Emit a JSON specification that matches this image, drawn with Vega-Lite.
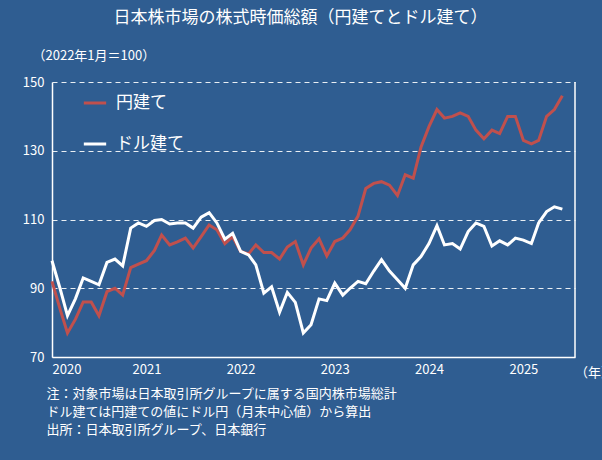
{
  "$schema": "https://vega.github.io/schema/vega-lite/v6.json",
  "autosize": "none",
  "width": 523,
  "height": 275,
  "padding": {"left": 52, "top": 82, "right": 27, "bottom": 103},
  "background": "#2f5d91",
  "config": {
    "font": "Noto Sans CJK JP",
    "view": {"stroke": null},
    "axis": {"labelColor": "white", "titleColor": "white", "labelFontSize": 13, "domainColor": "white", "domainWidth": 1.5, "tickColor": "white"}
  },
  "title": {
    "text": "日本株市場の株式時価総額（円建てとドル建て）",
    "color": "white", "fontSize": 17, "fontWeight": "normal", "anchor": "middle", "frame": "group", "offset": 22, "dx": -13
  },
  "datasets": {
    "index": [
      {"date": "2020-01", "円建て": 92, "ドル建て": 98},
      {"date": "2020-02", "円建て": 84, "ドル建て": 90},
      {"date": "2020-03", "円建て": 77, "ドル建て": 82},
      {"date": "2020-04", "円建て": 81, "ドル建て": 87},
      {"date": "2020-05", "円建て": 86, "ドル建て": 93},
      {"date": "2020-06", "円建て": 86, "ドル建て": 92},
      {"date": "2020-07", "円建て": 82, "ドル建て": 91},
      {"date": "2020-08", "円建て": 89, "ドル建て": 97.5},
      {"date": "2020-09", "円建て": 90, "ドル建て": 98.5},
      {"date": "2020-10", "円建て": 88, "ドル建て": 96.5},
      {"date": "2020-11", "円建て": 96, "ドル建て": 107.5},
      {"date": "2020-12", "円建て": 97, "ドル建て": 109},
      {"date": "2021-01", "円建て": 98, "ドル建て": 108},
      {"date": "2021-02", "円建て": 101, "ドル建て": 109.7},
      {"date": "2021-03", "円建て": 105.5, "ドル建て": 110},
      {"date": "2021-04", "円建て": 102.6, "ドル建て": 108.7},
      {"date": "2021-05", "円建て": 103.5, "ドル建て": 109},
      {"date": "2021-06", "円建て": 104.6, "ドル建て": 109},
      {"date": "2021-07", "円建て": 101.7, "ドル建て": 107.5},
      {"date": "2021-08", "円建て": 105, "ドル建て": 110.7},
      {"date": "2021-09", "円建て": 108.4, "ドル建て": 112},
      {"date": "2021-10", "円建て": 107, "ドル建て": 109},
      {"date": "2021-11", "円建て": 103, "ドル建て": 104.3},
      {"date": "2021-12", "円建て": 105, "ドル建て": 106},
      {"date": "2022-01", "円建て": 100.7, "ドル建て": 100.7},
      {"date": "2022-02", "円建て": 100, "ドル建て": 99.7},
      {"date": "2022-03", "円建て": 102.6, "ドル建て": 96.8},
      {"date": "2022-04", "円建て": 100.4, "ドル建て": 88.6},
      {"date": "2022-05", "円建て": 100.4, "ドル建て": 90.4},
      {"date": "2022-06", "円建て": 98.5, "ドル建て": 83},
      {"date": "2022-07", "円建て": 102, "ドル建て": 88.8},
      {"date": "2022-08", "円建て": 103.6, "ドル建て": 85.9},
      {"date": "2022-09", "円建て": 96.8, "ドル建て": 77},
      {"date": "2022-10", "円建て": 101.7, "ドル建て": 79.4},
      {"date": "2022-11", "円建て": 104.4, "ドル建て": 86.9},
      {"date": "2022-12", "円建て": 99.4, "ドル建て": 86.4},
      {"date": "2023-01", "円建て": 103.6, "ドル建て": 91.5},
      {"date": "2023-02", "円建て": 104.6, "ドル建て": 88},
      {"date": "2023-03", "円建て": 107, "ドル建て": 90},
      {"date": "2023-04", "円建て": 111, "ドル建て": 92},
      {"date": "2023-05", "円建て": 119, "ドル建て": 91.3},
      {"date": "2023-06", "円建て": 120.5, "ドル建て": 95},
      {"date": "2023-07", "円建て": 121, "ドル建て": 98.3},
      {"date": "2023-08", "円建て": 120, "ドル建て": 95},
      {"date": "2023-09", "円建て": 117, "ドル建て": 92.5},
      {"date": "2023-10", "円建て": 123, "ドル建て": 90},
      {"date": "2023-11", "円建て": 122, "ドル建て": 96.8},
      {"date": "2023-12", "円建て": 131, "ドル建て": 99.2},
      {"date": "2024-01", "円建て": 137, "ドル建て": 103},
      {"date": "2024-02", "円建て": 142, "ドル建て": 108.2},
      {"date": "2024-03", "円建て": 139.5, "ドル建て": 102.6},
      {"date": "2024-04", "円建て": 140, "ドル建て": 103},
      {"date": "2024-05", "円建て": 141, "ドル建て": 101.4},
      {"date": "2024-06", "円建て": 140, "ドル建て": 106.5},
      {"date": "2024-07", "円建て": 136, "ドル建て": 109},
      {"date": "2024-08", "円建て": 133.5, "ドル建て": 108},
      {"date": "2024-09", "円建て": 136, "ドル建て": 102.3},
      {"date": "2024-10", "円建て": 135, "ドル建て": 103.8},
      {"date": "2024-11", "円建て": 140, "ドル建て": 102.6},
      {"date": "2024-12", "円建て": 140, "ドル建て": 104.6},
      {"date": "2025-01", "円建て": 133, "ドル建て": 104},
      {"date": "2025-02", "円建て": 132, "ドル建て": 103},
      {"date": "2025-03", "円建て": 133, "ドル建て": 109},
      {"date": "2025-04", "円建て": 140, "ドル建て": 112.3},
      {"date": "2025-05", "円建て": 142, "ドル建て": 113.7},
      {"date": "2025-06", "円建て": 146, "ドル建て": 113}
    ],
    "frame": [{"x": "2025-07-20", "t": "（年）"}]
  },
  "data": {"name": "index"},
  "layer": [
    {
      "transform": [{"fold": ["円建て", "ドル建て"], "as": ["series", "value"]}],
      "mark": {"type": "line", "strokeWidth": 3},
      "encoding": {
        "x": {
          "field": "date", "type": "temporal",
          "scale": {"domain": ["2020-01-01", "2025-07-20"]},
          "axis": {
            "format": "%Y", "tickCount": {"interval": "year", "step": 1}, "grid": false, "ticks": false, "labelPadding": 6,
            "title": ["注：対象市場は日本取引所グループに属する国内株市場総計", "\u00a0\u00a0\u00a0\u00a0\u00a0\u00a0ドル建ては円建ての値にドル円（月末中心値）から算出", "出所：日本取引所グループ、日本銀行"],
            "titleAnchor": "start", "titleAlign": "left", "titleFontWeight": "normal", "titleFontSize": 13, "titleX": -6, "titleY": 30, "titleBaseline": "top", "titleLineHeight": 18
          }
        },
        "y": {
          "field": "value", "type": "quantitative",
          "scale": {"domain": [70, 150], "nice": false},
          "axis": {
            "values": [70, 80, 90, 100, 110, 120, 130, 140, 150], "ticks": false, "labelPadding": 8,
            "grid": true, "gridColor": "white", "gridDash": [5, 4], "gridOpacity": 0.9,
            "title": "（2022年1月＝100）", "titleAngle": 0, "titleAlign": "left", "titleX": -20, "titleY": -20, "titleFontWeight": "normal", "titleFontSize": 13
          }
        },
        "color": {
          "field": "series", "type": "nominal",
          "scale": {"domain": ["円建て", "ドル建て"], "range": ["#c0504d", "white"]},
          "legend": {
            "orient": "none", "legendX": 30, "legendY": 8, "title": null,
            "symbolType": "stroke", "symbolStrokeWidth": 3, "symbolSize": 500,
            "labelColor": "white", "labelFontSize": 17, "rowPadding": 20, "labelOffset": 8
          }
        }
      }
    },
    {
      "transform": [
        {"fold": ["円建て", "ドル建て"], "as": ["series", "value"]},
        {"filter": {"field": "date", "equal": "2025-06"}}
      ],
      "mark": {"type": "text", "color": "white", "align": "left", "dx": 28, "fontSize": 13},
      "encoding": {
        "x": {"field": "date", "type": "temporal"},
        "y": {"field": "value", "type": "quantitative"},
        "text": {"field": "value", "type": "quantitative"}
      }
    },
    {
      "data": {"name": "frame"},
      "mark": {"type": "rule", "color": "white", "strokeWidth": 1.5},
      "encoding": {"x": {"field": "x", "type": "temporal"}, "y": {"datum": 70}, "y2": {"datum": 150}}
    },
    {
      "data": {"name": "frame"},
      "mark": {"type": "text", "color": "white", "align": "left", "baseline": "top", "dy": 10, "fontSize": 13},
      "encoding": {"x": {"field": "x", "type": "temporal"}, "y": {"datum": 70}, "text": {"field": "t"}}
    }
  ]
}
